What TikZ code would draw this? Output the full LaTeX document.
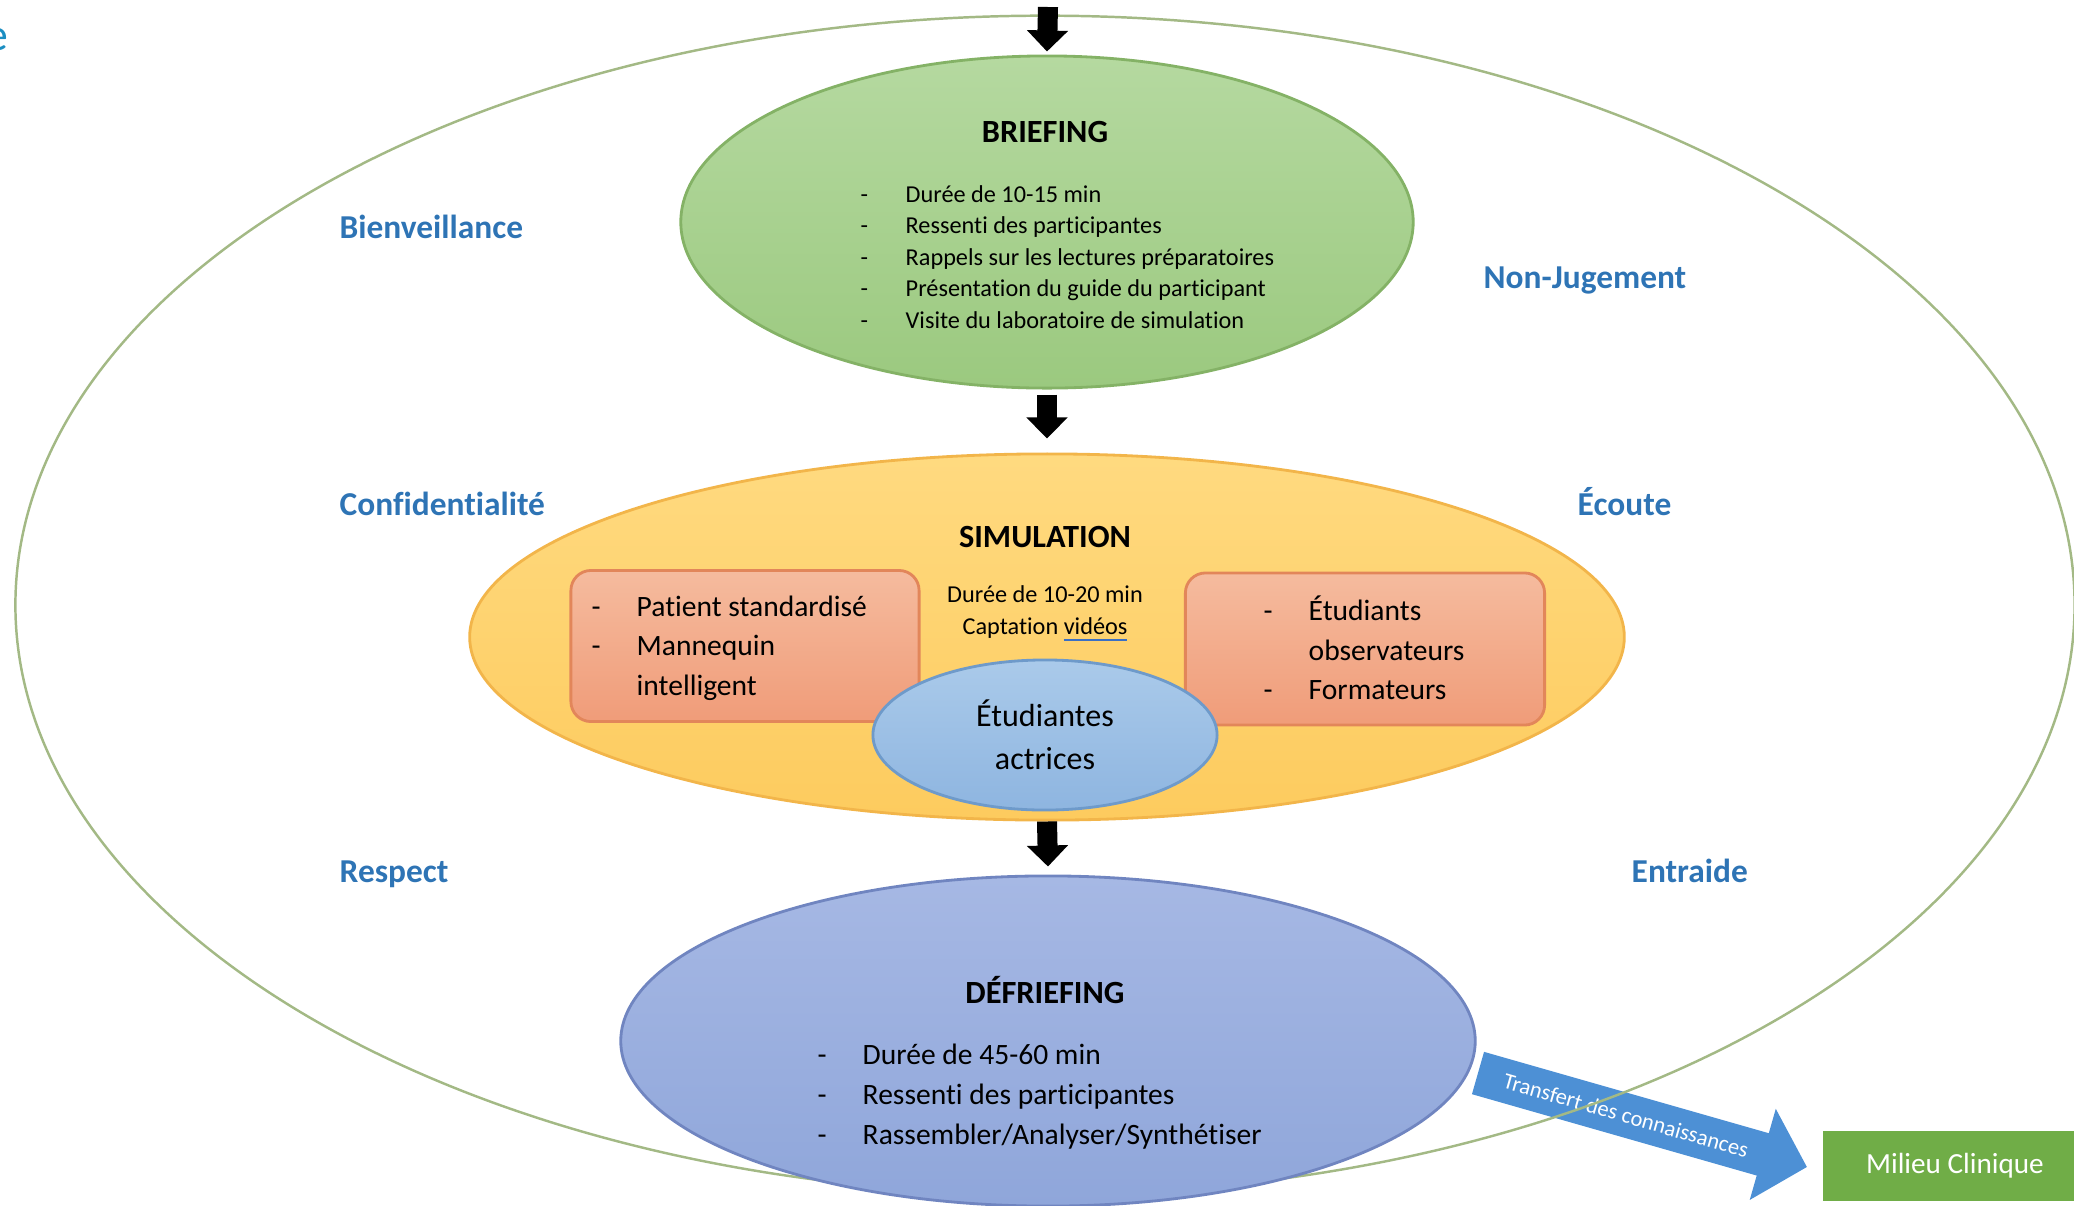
\documentclass[tikz,border=0pt]{standalone}
\usepackage{fontspec}
\setmainfont{Carlito}[Ligatures=CommonOff]
\usetikzlibrary{shapes.geometric,arrows.meta}

\definecolor{cadrevert}{HTML}{A3B985}
\definecolor{valbleu}{HTML}{2E74B5}
\definecolor{briefhaut}{HTML}{B5D9A0}
\definecolor{briefbas}{HTML}{9BC97F}
\definecolor{briefbord}{HTML}{84B266}
\definecolor{simhaut}{HTML}{FFDA80}
\definecolor{simbas}{HTML}{FDCB5E}
\definecolor{simbord}{HTML}{F2B54A}
\definecolor{boitehaut}{HTML}{F5BB9E}
\definecolor{boitebas}{HTML}{F09C79}
\definecolor{boitebord}{HTML}{E2865A}
\definecolor{acthaut}{HTML}{AACAEA}
\definecolor{actbas}{HTML}{8EB5E0}
\definecolor{actbord}{HTML}{6E9ACA}
\definecolor{defhaut}{HTML}{A6B8E4}
\definecolor{defbas}{HTML}{8FA6DA}
\definecolor{defbord}{HTML}{7085C0}
\definecolor{cliniquevert}{HTML}{70AD47}
\definecolor{transbleu}{HTML}{4D90D5}
\definecolor{soulignebleu}{HTML}{3A6FC4}
\definecolor{titrebleu}{HTML}{1B8EC2}

\newcommand{\tiret}{\makebox[0.45cm][l]{-}}

\tikzset{
  phase/.style={ellipse, inner sep=0pt, line width=0.8pt},
  titre/.style={font=\bfseries\fontsize{9.2}{11}\selectfont, inner sep=0pt},
  liste/.style={align=left, anchor=west, inner sep=0pt},
  valeur/.style={font=\bfseries\fontsize{9.5}{11}\selectfont, text=valbleu, anchor=base west, inner sep=0pt},
  boite/.style={rounded corners=0.2cm, line width=0.8pt, draw=boitebord, top color=boitehaut, bottom color=boitebas},
  flux/.style={line width=0.2cm, -{Triangle[width=0.40cm,length=0.21cm]}},
}

\begin{document}
\begin{tikzpicture}[x=0.01cm,y=-0.01cm]
    \useasboundingbox (0,0) rectangle (2074,1205);
    \node[font=\fontsize{13}{15}\selectfont, text=titrebleu, inner sep=0pt] (bord) at (-3,40) {e};

    % transfert vers le milieu clinique
    \coordinate (depart) at (1478,1073);
    \coordinate (pointe) at (1807,1167);
    \draw[transbleu, line width=0.44cm, -{Triangle[width=0.92cm,length=0.46cm]}] (depart) -- (pointe)
        node[pos=0.45, sloped, text=white, font=\fontsize{6.4}{7}\selectfont] {Transfert des connaissances};

    \node[ellipse, draw=cadrevert, line width=0.7pt, minimum width=20.58cm, minimum height=11.78cm] (cadre) at (1045,605) {};

    % les trois phases
    \node[phase, draw=briefbord, top color=briefhaut, bottom color=briefbas, minimum width=7.32cm, minimum height=3.32cm] (briefing) at (1047,222) {};
    \node[phase, draw=simbord, top color=simhaut, bottom color=simbas, minimum width=11.54cm, minimum height=3.66cm] (simulation) at (1047,637) {};
    \node[phase, draw=defbord, top color=defhaut, bottom color=defbas, minimum width=8.54cm, minimum height=3.30cm] (defriefing) at (1048,1041) {};

    \node[titre] (titbrief) at (1045,132) {BRIEFING};
    \node[liste, font=\fontsize{6.9}{9}\selectfont] (listbrief) at (860,257) {\tiret Durée de 10-15 min\\
        \tiret Ressenti des participantes\\
        \tiret Rappels sur les lectures préparatoires\\
        \tiret Présentation du guide du participant\\
        \tiret Visite du laboratoire de simulation};

    \node[titre] (titsim) at (1045,537) {SIMULATION};
    \node[align=center, inner sep=0pt, font=\fontsize{6.9}{9.1}\selectfont] (dureesim) at (1045,614) {Durée de 10-20 min\\
        Captation {\color{soulignebleu}\underline{\color{black}vidéos}}};
    \node[boite, minimum width=3.48cm, minimum height=1.51cm] (outils) at (745,646) {};
    \node[liste, font=\fontsize{8.4}{11.2}\selectfont] (listoutils) at (591,648) {\tiret Patient standardisé\\
        \tiret Mannequin\\
        \hspace*{0.45cm}intelligent};
    \node[boite, minimum width=3.59cm, minimum height=1.52cm] (observ) at (1365,649) {};
    \node[liste, font=\fontsize{8.4}{11.2}\selectfont] (listobserv) at (1263,648) {\tiret Étudiants\\
        \hspace*{0.45cm}observateurs\\
        \tiret Formateurs};
    \node[phase, draw=actbord, top color=acthaut, bottom color=actbas, minimum width=3.44cm, minimum height=1.50cm,
        align=center, font=\fontsize{9.1}{12.2}\selectfont] (actrices) at (1045,735) {Étudiantes\\ actrices};

    \node[titre] (titdef) at (1045,990) {DÉFRIEFING};
    \node[liste, font=\fontsize{8.4}{11.4}\selectfont] (listdef) at (817,1097) {\tiret Durée de 45-60 min\\
        \tiret Ressenti des participantes\\
        \tiret Rassembler/Analyser/Synthétiser};

    % fleches entre les phases
    \coordinate (entree) at (1048,7);
    \draw[flux] (entree) -- ([yshift=0.03cm]briefing.north);
    \draw[flux] ([yshift=-0.05cm]briefing.south) -- ([yshift=0.14cm]simulation.north);
    \draw[flux] (simulation.south) -- ([yshift=0.08cm]defriefing.north);

    \node[fill=cliniquevert, text=white, minimum width=2.64cm, minimum height=0.70cm, font=\fontsize{8.3}{9}\selectfont] (milieu) at (1955,1166) {Milieu Clinique};

    % valeurs
    \node[valeur] (bienv) at (339,238) {Bienveillance};
    \node[valeur] (confid) at (339,515) {Confidentialité};
    \node[valeur] (respect) at (339,882) {Respect};
    \node[valeur] (nonjug) at (1483,288) {Non-Jugement};
    \node[valeur] (ecoute) at (1577,515) {Écoute};
    \node[valeur] (entraide) at (1631,882) {Entraide};
\end{tikzpicture}
\end{document}
